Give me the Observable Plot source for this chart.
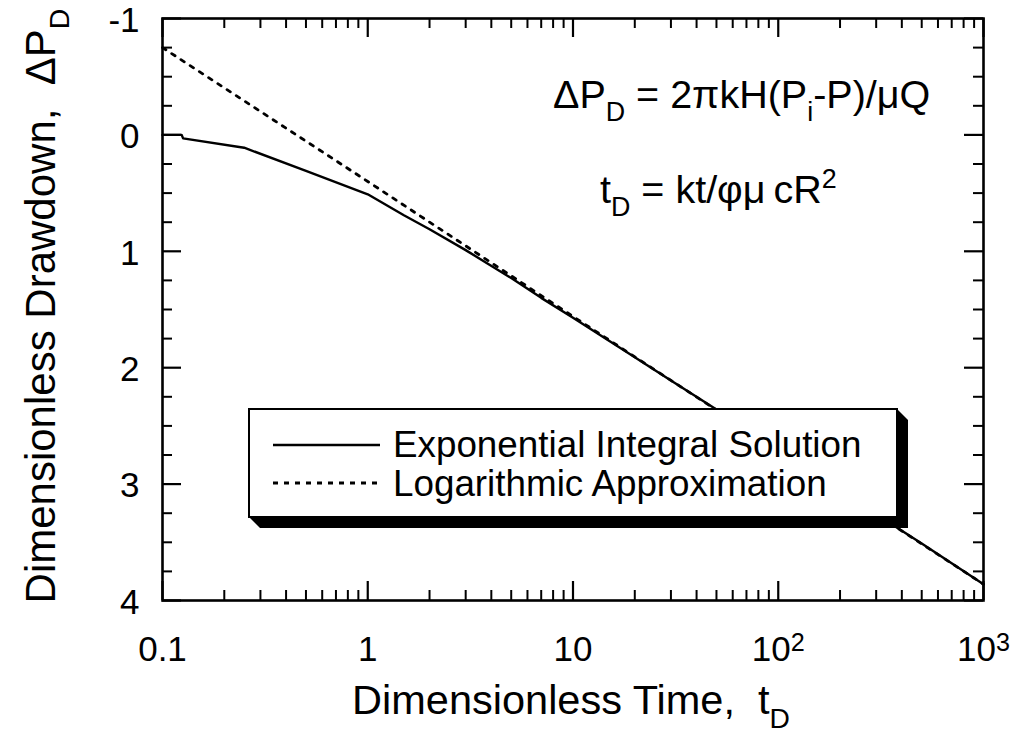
<!DOCTYPE html>
<html>
<head>
<meta charset="utf-8">
<script src="https://cdn.jsdelivr.net/npm/d3@7"></script>
<script src="https://cdn.jsdelivr.net/npm/@observablehq/plot@0.6"></script>
<style>
  body { margin: 0; background: #fff; }
  #chart { width: 1014px; height: 732px; }
</style>
</head>
<body>
<div id="chart"></div>
<script>
// ---- data ----
const eiTime     = [0.1, 0.124, 0.126, 0.25, 0.5, 1, 1.5, 2, 3, 5, 7, 10, 20, 30, 50, 100, 200, 300, 500, 1000];
const eiDrawdown = [0.00, 0.00, 0.03, 0.11, 0.31, 0.51, 0.69, 0.81, 0.99, 1.23, 1.40, 1.57, 1.91, 2.11, 2.36, 2.71, 3.06, 3.26, 3.51, 3.86];
const logTime     = [0.1, 1, 10, 100, 1000];
const logDrawdown = [-0.75, 0.40, 1.56, 2.71, 3.86];

const xMajor = [0.1, 1, 10, 100, 1000];
const xMinor = [0.2,0.3,0.4,0.5,0.6,0.7,0.8,0.9, 2,3,4,5,6,7,8,9, 20,30,40,50,60,70,80,90, 200,300,400,500,600,700,800,900];
const xTickLabels = ["0.1", "1", "10", "10^2", "10^3"];
const yMajor = [-1, 0, 1, 2, 3, 4];
const yMinor = [-0.75,-0.5,-0.25, 0.25,0.5,0.75, 1.25,1.5,1.75, 2.25,2.5,2.75, 3.25,3.5,3.75];

const seriesNames = ["Exponential Integral Solution", "Logarithmic Approximation"];

const eiRows  = eiTime.map((t, i) => ({t, p: eiDrawdown[i]}));
const logRows = logTime.map((t, i) => ({t, p: logDrawdown[i]}));

// ---- layout ----
const W = 1014, H = 732, mL = 162, mR = 31, mT = 18, mB = 132;
const innerW = W - mL - mR, innerH = H - mT - mB;
const FONT = "'Liberation Sans', Arial, Helvetica, sans-serif";
const majLen = 19, minLen = 10;

const plot = Plot.plot({
  width: W, height: H,
  marginLeft: mL, marginRight: mR, marginTop: mT, marginBottom: mB,
  style: {fontFamily: FONT, fontSize: "35px", background: "white", color: "black", overflow: "visible"},
  x: {type: "log", domain: [0.1, 1000], label: null},
  y: {domain: [-1, 4], reverse: true, label: null},
  marks: [
    Plot.line(eiRows,  {x: "t", y: "p", stroke: "black", strokeWidth: 2.4}),
    Plot.line(logRows, {x: "t", y: "p", stroke: "black", strokeWidth: 2.8, strokeDasharray: "4,7"}),
    // inner ticks, bottom & top
    Plot.tickX(xMajor, {x: d => d, insetTop: innerH - majLen, strokeWidth: 2.2}),
    Plot.tickX(xMinor, {x: d => d, insetTop: innerH - minLen, strokeWidth: 2}),
    Plot.tickX(xMajor, {x: d => d, insetBottom: innerH - majLen, strokeWidth: 2.2}),
    Plot.tickX(xMinor, {x: d => d, insetBottom: innerH - minLen, strokeWidth: 2}),
    // inner ticks, left & right
    Plot.tickY(yMajor, {y: d => d, insetRight: innerW - majLen, strokeWidth: 2.2}),
    Plot.tickY(yMinor, {y: d => d, insetRight: innerW - minLen, strokeWidth: 2}),
    Plot.tickY(yMajor, {y: d => d, insetLeft: innerW - majLen, strokeWidth: 2.2}),
    Plot.tickY(yMinor, {y: d => d, insetLeft: innerW - minLen, strokeWidth: 2}),
    Plot.frame({stroke: "black", strokeWidth: 2.6}),
    Plot.axisX(xMajor, {tickSize: 0, tickPadding: 36, fontSize: 35, label: null,
      tickFormat: d => xTickLabels[xMajor.indexOf(d)]}),
    Plot.axisY(yMajor, {tickSize: 0, tickPadding: 23, fontSize: 35, label: null, dy: 2,
      tickFormat: d => String(d)})
  ]
});

document.getElementById("chart").appendChild(plot);
const svg = d3.select(plot);

// superscripts on 10^n tick labels
svg.selectAll("[aria-label='x-axis tick label'] text").each(function() {
  const s = this.textContent;
  if (s.includes("^")) {
    const [base, exp] = s.split("^");
    const t = d3.select(this);
    t.text(base);
    t.append("tspan").attr("dy", "-0.42em").attr("font-size", "0.72em").text(exp);
  }
});

// rich text helper: parts = [[text, "sub"|"sup"|null], ...]
function rich(g, x, y, parts, size, anchor = "start") {
  const t = g.append("text").attr("x", x).attr("y", y)
    .attr("font-family", FONT).attr("font-size", size).attr("fill", "black")
    .attr("text-anchor", anchor);
  let shift = 0;
  for (const [txt, kind] of parts) {
    const target = kind === "sub" ? 0.33 * size : kind === "sup" ? -0.38 * size : 0;
    const sp = t.append("tspan").attr("dy", target - shift).text(txt);
    if (kind) sp.attr("font-size", size * 0.68);
    shift = target;
  }
  return t;
}

const ann = svg.append("g");
// axis titles
rich(ann, 571, 714, [["Dimensionless Time,  t", null], ["D", "sub"]], 41.5, "middle");
const yt = ann.append("g").attr("transform", "translate(55,306) rotate(-90)");
rich(yt, 0, 0, [["Dimensionless Drawdown,  \u0394P", null], ["D", "sub"]], 42, "middle");

// equations
rich(ann, 553, 108, [["\u0394P", null], ["D", "sub"], [" = 2\u03C0kH(P", null], ["i", "sub"], ["-P)/\u03BCQ", null]], 39.5);
rich(ann, 600, 203, [["t", null], ["D", "sub"], [" = kt/\u03C6\u03BC\u2009cR", null], ["2", "sup"]], 39.5);

// legend box with 3D shadow
const lx1 = 249, ly1 = 409, lx2 = 897, ly2 = 517, d = 11;
const leg = svg.append("g");
leg.append("polygon")
  .attr("points", [[lx1, ly2], [lx2, ly1], [lx2 + d, ly1 + d], [lx2 + d, ly2 + d], [lx1 + d, ly2 + d]].map(p => p.join(",")).join(" "))
  .attr("fill", "black");
leg.append("rect").attr("x", lx1).attr("y", ly1).attr("width", lx2 - lx1).attr("height", ly2 - ly1)
  .attr("fill", "white").attr("stroke", "black").attr("stroke-width", 2);
leg.append("line").attr("x1", 273).attr("x2", 380).attr("y1", 445).attr("y2", 445)
  .attr("stroke", "black").attr("stroke-width", 2.5);
leg.append("line").attr("x1", 273).attr("x2", 380).attr("y1", 483).attr("y2", 483)
  .attr("stroke", "black").attr("stroke-width", 2.8).attr("stroke-dasharray", "5,6");
rich(leg, 393, 457, [[seriesNames[0], null]], 36.8);
rich(leg, 393, 496, [[seriesNames[1], null]], 36.8);
</script>
</body>
</html>
